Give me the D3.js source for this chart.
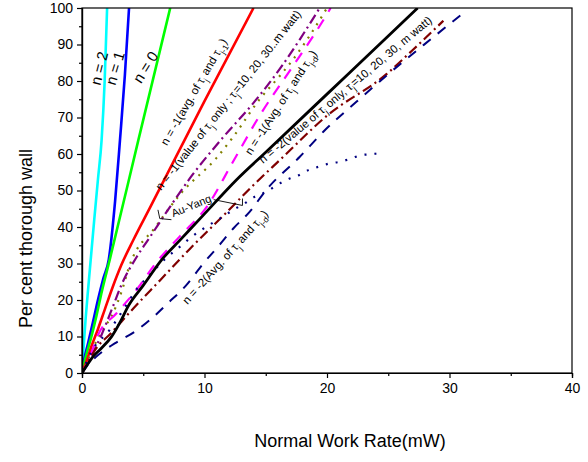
<!DOCTYPE html>
<html>
<head>
<meta charset="utf-8">
<script src="https://cdn.jsdelivr.net/npm/d3@7"></script>
<style>
  html, body { margin: 0; padding: 0; background: #fff; }
  svg { display: block; font-family: "Liberation Sans", Arial, sans-serif; }
</style>
</head>
<body>
<svg id="chart" width="588" height="462"></svg>
<script>
// Work rate (mW) vs per cent through wall, one array per curve: [x, y]
const n2 = [[0,0],[0.15,8],[0.3,15],[0.5,23],[0.71,31],[1.0,42],[1.3,53],[1.6,63.8],[1.85,80],[2.05,100]];
const n1 = [[0,0],[0.2,4],[0.5,8.2],[0.9,14],[1.3,20],[1.75,26],[2.18,31],[2.7,47],[3.1,63.8],[3.5,81.6],[3.84,100]];
const n0 = [[0,0],[0.35,5],[0.76,9.9],[1.2,16],[1.58,21.8],[2.26,31],[4.6,63.8],[7.2,100]];
const nm1Avg = [[0,0],[0.4,3.5],[0.76,7.2],[1.3,12],[1.85,17.3],[2.5,23.5],[3.2,29.5],[4.2,36.5],[5.55,45.3],[10,74.5],[14,100]];
const nm1ValueOlive = [[0,0],[0.8,6],[1.5,11],[2.4,15.5],[3.2,22],[3.9,29.6],[6,40],[8.1,49.3],[11,59],[12.3,64.5],[14.5,75],[16.2,81.6],[17.25,86],[18.7,93],[20,100]];
const nm1ValuePurple = [[0,0],[0.8,5],[1.6,10.5],[2.5,18],[3.2,24],[4.5,32],[5.5,37],[7.2,45.6],[8.8,53.3],[11.5,64.5],[14,74],[16.4,84.5],[17.8,91.5],[19.4,100]];
const nm1AvgD = [[0,0],[0.6,4],[1.3,10.4],[2.8,16.3],[4.5,23],[6,30],[8,37.5],[10.2,45.6],[12.35,58],[14.5,70.5],[17,83],[19.2,94],[20.3,100]];
const nm2 = [[0,0],[0.5,2.6],[0.9,4.5],[1.5,6.5],[2.4,9.9],[3.2,14.5],[3.75,18.2],[5,24],[6.5,31],[8,36.4],[10,43.6],[12.6,52.9],[15,60.5],[20,76.4],[25,92.3],[27.4,100]];
const nm2Value = [[0,0],[0.5,3],[1,6],[2.4,11],[4,17],[6.4,25.5],[8.8,34],[11.5,43],[14,51.5],[16.2,58.5],[20,70.5],[24.9,82],[27,88.5],[29.5,96.5]];
const nm2AvgD = [[0,0],[0.35,1.7],[1.17,4.5],[2.67,8.1],[4.3,11.3],[5.7,15],[7,19.1],[8.5,24],[9.9,30],[11.1,34.6],[12.35,39.6],[13.7,44.2],[15,50],[17.8,59.3],[19.7,66.1],[22.4,74.3],[24.9,81.6],[27.9,89.9],[30.9,98]];
const auYang = [[0,0],[0.76,5.8],[2.26,11.8],[3.5,18],[4.6,23.6],[5.4,26.4],[6.7,31],[8,34.6],[8.8,36.9],[10.6,41],[11.5,42.8],[12.35,44.7],[13.3,46.5],[14.1,48.3],[15.1,49.7],[15.9,51.5],[16.7,52.9],[17.7,54.2],[18.5,55.6],[19.3,56.5],[20.2,57.4],[21.1,57.9],[22,58.8],[22.8,59.7],[23.8,60],[24.6,60.6]];

// Axis ticks
const xTicks = [0, 10, 20, 30, 40];
const xMinor = [5, 15, 25, 35];
const yTicks = [0, 10, 20, 30, 40, 50, 60, 70, 80, 90, 100];
const yMinor = [5, 15, 25, 35, 45, 55, 65, 75, 85, 95];

const svg = d3.select("#chart");
const M = { left: 82, right: 572, top: 8, bottom: 373 };
const x = d3.scaleLinear().domain([0, 40]).range([M.left, M.right]);
const y = d3.scaleLinear().domain([0, 100]).range([M.bottom, M.top]);

svg.append("defs").append("clipPath").attr("id", "plot")
  .append("rect").attr("x", M.left).attr("y", M.top)
  .attr("width", M.right - M.left).attr("height", M.bottom - M.top);

// Curves
const series = [
  { data: n2, color: "#00ffff", width: 2.6, dash: null },
  { data: n1, color: "#0000ff", width: 2.6, dash: null },
  { data: n0, color: "#00ff00", width: 2.6, dash: null },
  { data: nm1Avg, color: "#ff0000", width: 2.6, dash: null },
  { data: nm1ValueOlive, color: "#808000", width: 2.2, dash: "2,6" },
  { data: nm1ValuePurple, color: "#800080", width: 2.2, dash: "10,4,2,4" },
  { data: nm1AvgD, color: "#ff00ff", width: 2.2, dash: "11,9" },
  { data: nm2Value, color: "#800000", width: 2.2, dash: "10,4,2,4" },
  { data: nm2AvgD, color: "#000080", width: 2.0, dash: "10,9" },
  { data: auYang, color: "#000080", width: 2.2, dash: "2,8" },
  { data: nm2, color: "#000000", width: 2.8, dash: null }
];

const line = d3.line().x(d => x(d[0])).y(d => y(d[1])).curve(d3.curveMonotoneX);
const lines = svg.append("g").attr("clip-path", "url(#plot)");
series.forEach(s => {
  lines.append("path").datum(s.data)
    .attr("d", line)
    .attr("fill", "none")
    .attr("stroke", s.color)
    .attr("stroke-width", s.width)
    .attr("stroke-dasharray", s.dash);
});

// Frame
svg.append("rect").attr("x", M.left).attr("y", M.top)
  .attr("width", M.right - M.left).attr("height", M.bottom - M.top)
  .attr("fill", "none").attr("stroke", "#000").attr("stroke-width", 1.2);

// Axes
svg.append("g").attr("transform", `translate(0,${M.bottom})`)
  .call(d3.axisBottom(x).tickValues(xTicks).tickSize(5).tickPadding(5).tickFormat(d3.format("d")));
svg.append("g").attr("transform", `translate(0,${M.bottom})`)
  .call(d3.axisBottom(x).tickValues(xMinor).tickSize(3).tickFormat(""));
svg.append("g").attr("transform", `translate(${M.left},0)`)
  .call(d3.axisLeft(y).tickValues(yTicks).tickSize(5).tickPadding(4).tickFormat(d3.format("d")));
svg.append("g").attr("transform", `translate(${M.left},0)`)
  .call(d3.axisLeft(y).tickValues(yMinor).tickSize(3).tickFormat(""));
svg.selectAll(".domain").attr("stroke", "#000").attr("stroke-width", 1.2);
svg.selectAll(".tick line").attr("stroke", "#000").attr("stroke-width", 1.2);
svg.selectAll(".tick text").attr("font-family", "Liberation Sans, Arial, sans-serif")
  .attr("font-size", 14).attr("fill", "#000");

// Axis titles
svg.append("text").attr("x", (M.left + M.right) / 2 + 23).attr("y", 447)
  .attr("text-anchor", "middle").attr("font-size", 18).text("Normal Work Rate(mW)");
svg.append("text").attr("transform", `translate(32,${(M.top + M.bottom) / 2 + 48}) rotate(-90)`)
  .attr("text-anchor", "middle").attr("font-size", 18).text("Per cent thorough wall");

// Curve labels: pieces are [text, isSubscript]
function label(cx, cy, angle, size, pieces) {
  const t = svg.append("text")
    .attr("transform", `translate(${x(cx)},${y(cy)}) rotate(${angle})`)
    .attr("text-anchor", "middle").attr("dominant-baseline", "middle")
    .attr("font-size", size).attr("fill", "#000");
  pieces.forEach(([s, sub]) => {
    const sp = t.append("tspan").text(s);
    if (sub) sp.attr("font-size", size * 0.72).attr("baseline-shift", "sub");
  });
}
label(1.5, 83.4, -76, 15, [["n = 2"]]);
label(2.8, 83.4, -73, 15, [["n = 1"]]);
label(5.28, 83.6, -58, 15, [["n = 0"]]);
label(9.2, 76.9, -60, 11.5, [["n = -1(avg. of τ"], ["j", 1], [" and τ"], ["j-1", 1], [")"]]);
label(12.0, 74.6, -51.5, 11.5, [["n = -1(value of τ"], ["j", 1], [" only ; τ"], ["j", 1], ["=10, 20, 30..m watt)"]]);
label(16.3, 74.0, -57, 11.5, [["n = -1(Avg. of τ"], ["j", 1], [" and τ"], ["j-d", 1], [")"]]);
label(21.55, 77.4, -40, 11.5, [["n = -2(value of τ"], ["j", 1], [" only, τ"], ["j", 1], ["=10, 20, 30, m watt)"]]);
label(11.75, 31.6, -48, 11.5, [["n = -2(Avg. of τ"], ["j", 1], [" and τ"], ["j-d", 1], [")"]]);
label(8.94, 45.6, -22, 11, [["Au-Yang"]]);

// Au-Yang leader marks
const leaders = [
  [[6.2, 44.7], [6.35, 42.3], [7.3, 42.0]],
  [[10.75, 47.5], [13.1, 45.9], [13.1, 47.8]]
];
const seg = d3.line().x(d => x(d[0])).y(d => y(d[1]));
leaders.forEach(p => svg.append("path").attr("d", seg(p))
  .attr("fill", "none").attr("stroke", "#000").attr("stroke-width", 0.9));
</script>
</body>
</html>
